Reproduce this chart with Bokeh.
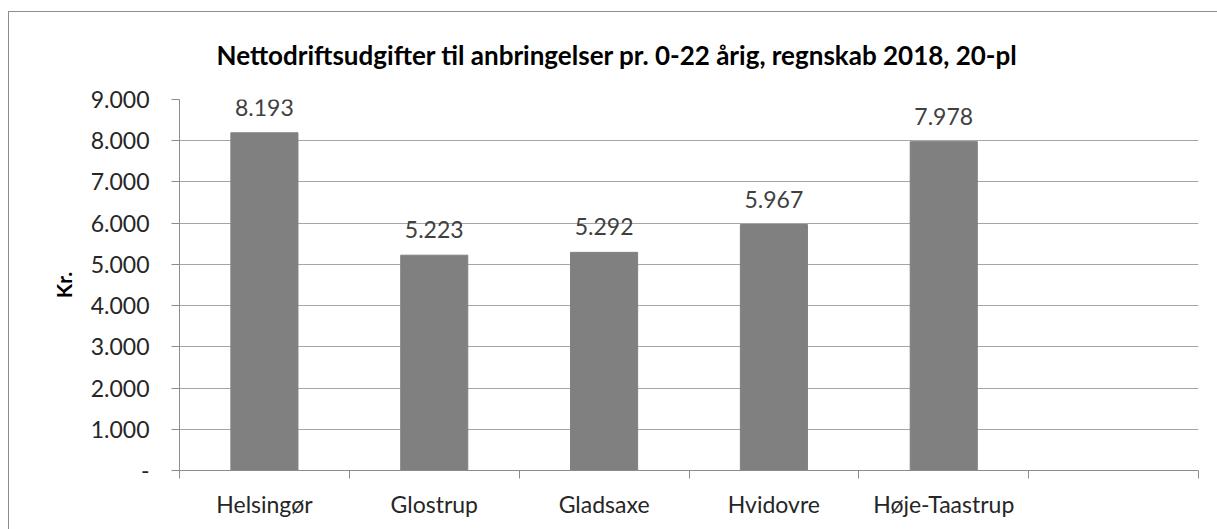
from bokeh.plotting import figure
from bokeh.models import (Range1d, FixedTicker, ColumnDataSource, LabelSet, Title, InlineStyleSheet)
from bokeh.core.properties import value
from bokeh.embed import file_html
from bokeh.resources import INLINE

categories = ["Helsingør", "Glostrup", "Gladsaxe", "Hvidovre", "Høje-Taastrup"]
values = [8193, 5223, 5292, 5967, 7978]
n_slots = 6  # the Excel chart has one empty category slot at the end
y_ticks = [0, 1000, 2000, 3000, 4000, 5000, 6000, 7000, 8000, 9000]
title_text = "Nettodriftsudgifter til anbringelser pr. 0-22 årig, regnskab 2018, 20-pl"
y_label = "Kr."

def dk(v):
    return "-" if v == 0 else f"{v:,}".replace(",", ".")

FONT = "Lato"
W, H = 1217, 529

x = [i + 0.5 for i in range(len(categories))]
src = ColumnDataSource(dict(x=x, top=values, lab=[dk(v) for v in values]))

border_css = InlineStyleSheet(css="""
:host::after {
  content: "";
  position: absolute;
  left: 8px; top: 11px; right: 0px; bottom: 0px;
  border-left: 1px solid #8c8c8c;
  border-top: 1px solid #8c8c8c;
  pointer-events: none;
}
""")

p = figure(width=W, height=H, output_backend="svg", toolbar_location=None,
           x_range=Range1d(0, n_slots), y_range=Range1d(0, y_ticks[-1]),
           min_border_left=179, min_border_right=19, min_border_top=99, min_border_bottom=59,
           stylesheets=[border_css])
p.outline_line_color = None
p.background_fill_color = "white"
p.border_fill_color = "white"

p.vbar(x="x", top="top", width=0.395, source=src, color="#808080")

p.add_layout(LabelSet(x="x", y="top", text="lab", source=src, text_align="center",
                      text_baseline="bottom", y_offset=17, text_font=value(FONT),
                      text_font_size="23px", text_color="#404040"))

# y axis
p.yaxis.ticker = FixedTicker(ticks=y_ticks)
p.yaxis.major_label_overrides = {t: dk(t) for t in y_ticks}
p.yaxis.major_label_text_font = FONT
p.yaxis.major_label_text_font_size = "23px"
p.yaxis.major_label_text_color = "#262626"
p.yaxis.major_label_standoff = 22
p.yaxis.major_tick_out = 8
p.yaxis.major_tick_in = 0
p.yaxis.minor_tick_line_color = None
p.yaxis.major_tick_line_color = "#8c8c8c"
p.yaxis.axis_line_color = "#8c8c8c"
p.yaxis.axis_label = y_label
p.yaxis.axis_label_text_font = FONT
p.yaxis.axis_label_text_font_style = "bold"
p.yaxis.axis_label_text_font_size = "21px"
p.yaxis.axis_label_text_color = "#000000"
p.yaxis.axis_label_standoff = 12

# x axis: labels at slot centres, tick marks between slots
p.xaxis.ticker = FixedTicker(ticks=x, minor_ticks=list(range(n_slots + 1)))
p.xaxis.major_label_overrides = {xx: c for xx, c in zip(x, categories)}
p.xaxis.major_label_text_font = FONT
p.xaxis.major_label_text_font_size = "23px"
p.xaxis.major_label_text_color = "#262626"
p.xaxis.major_label_standoff = 11
p.xaxis.major_tick_line_color = None
p.xaxis.minor_tick_out = 8
p.xaxis.minor_tick_in = 0
p.xaxis.minor_tick_line_color = "#8c8c8c"
p.xaxis.axis_line_color = "#8c8c8c"

p.xgrid.grid_line_color = None
p.ygrid.grid_line_color = "#a6a6a6"
p.ygrid.grid_line_width = 1

p.title = Title(text=title_text, align="left", offset=37, standoff=58,
                text_font=FONT, text_font_style="bold", text_font_size="26px",
                text_color="#000000")

open("out.html", "w").write(file_html(p, INLINE))
